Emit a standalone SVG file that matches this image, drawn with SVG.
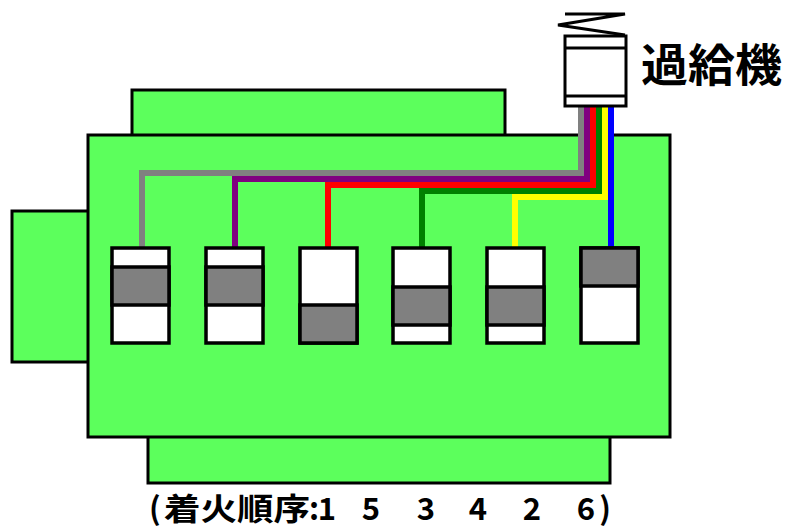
<svg xmlns="http://www.w3.org/2000/svg" width="786" height="530" viewBox="0 0 786 530">
  <style>
    .block { fill: #5cff5c; stroke: #000; stroke-width: 3; }
    .bore { fill: #fff; stroke: #000; stroke-width: 3.5; }
    .piston { fill: #808080; stroke: #000; stroke-width: 3.5; }
    .pipe { fill: none; stroke-width: 6; stroke-linejoin: miter; }
    .turbo { fill: #fff; stroke: #000; stroke-width: 3; }
    .lbl { font-family: "Noto Sans CJK JP", "Noto Sans", sans-serif; font-weight: bold; fill: #000; }
  </style>

  <!-- engine block -->
  <g id="engine">
    <rect class="block" x="132" y="90" width="373" height="46"/>
    <rect class="block" x="148" y="434" width="462" height="49"/>
    <rect class="block" x="12" y="211" width="78" height="151"/>
    <rect class="block" x="88" y="135" width="582" height="302"/>
  </g>

  <!-- pipes from the turbocharger to each cylinder -->
  <g id="connectors">
    <path class="pipe" stroke="#808080" d="M142,248 V173 H581 V106"/>
    <path class="pipe" stroke="#800080" d="M235,248 V179 H587 V106"/>
    <path class="pipe" stroke="#ff0000" d="M328,248 V185 H593 V106"/>
    <path class="pipe" stroke="#008000" d="M422,248 V191 H599 V106"/>
    <path class="pipe" stroke="#ffff00" d="M515,248 V197 H605 V106"/>
    <path class="pipe" stroke="#0000ff" d="M611,248 V106"/>
  </g>

  <!-- cylinders with piston positions -->
  <g id="cyl1">
    <rect class="bore" x="112" y="248" width="57" height="95"/>
    <rect class="piston" x="112" y="267" width="57" height="38"/>
  </g>
  <g id="cyl2">
    <rect class="bore" x="206" y="248" width="57" height="95"/>
    <rect class="piston" x="206" y="267" width="57" height="38"/>
  </g>
  <g id="cyl3">
    <rect class="bore" x="300" y="248" width="57" height="95"/>
    <rect class="piston" x="300" y="305" width="57" height="38"/>
  </g>
  <g id="cyl4">
    <rect class="bore" x="393" y="248" width="57" height="95"/>
    <rect class="piston" x="393" y="287" width="57" height="38"/>
  </g>
  <g id="cyl5">
    <rect class="bore" x="487" y="248" width="57" height="95"/>
    <rect class="piston" x="487" y="287" width="57" height="38"/>
  </g>
  <g id="cyl6">
    <rect class="bore" x="581" y="248" width="57" height="95"/>
    <rect class="piston" x="581" y="248" width="57" height="38"/>
  </g>

  <!-- turbocharger -->
  <g id="turbo">
    <polyline points="565,14 625,14 558,25 625,35" fill="none" stroke="#000" stroke-width="3"/>
    <rect class="turbo" x="565" y="36" width="61" height="70"/>
    <line x1="565" y1="48" x2="626" y2="48" stroke="#000" stroke-width="3"/>
    <line x1="565" y1="96" x2="626" y2="96" stroke="#000" stroke-width="3"/>
    <text class="lbl" x="641" y="82" font-size="45" textLength="141" lengthAdjust="spacingAndGlyphs">過給機</text>
  </g>

  <!-- firing order -->
  <g id="firing-order" class="lbl" font-size="31">
    <text x="149" y="520">(</text>
    <text x="164" y="520" textLength="146" lengthAdjust="spacingAndGlyphs">着火順序</text>
    <text x="314" y="520" text-anchor="middle">:</text>
    <text x="327" y="520" text-anchor="middle">1</text>
    <text x="371" y="520" text-anchor="middle">5</text>
    <text x="426" y="520" text-anchor="middle">3</text>
    <text x="478" y="520" text-anchor="middle">4</text>
    <text x="532" y="520" text-anchor="middle">2</text>
    <text x="586" y="520" text-anchor="middle">6</text>
    <text x="605" y="520" text-anchor="middle">)</text>
  </g>
</svg>
